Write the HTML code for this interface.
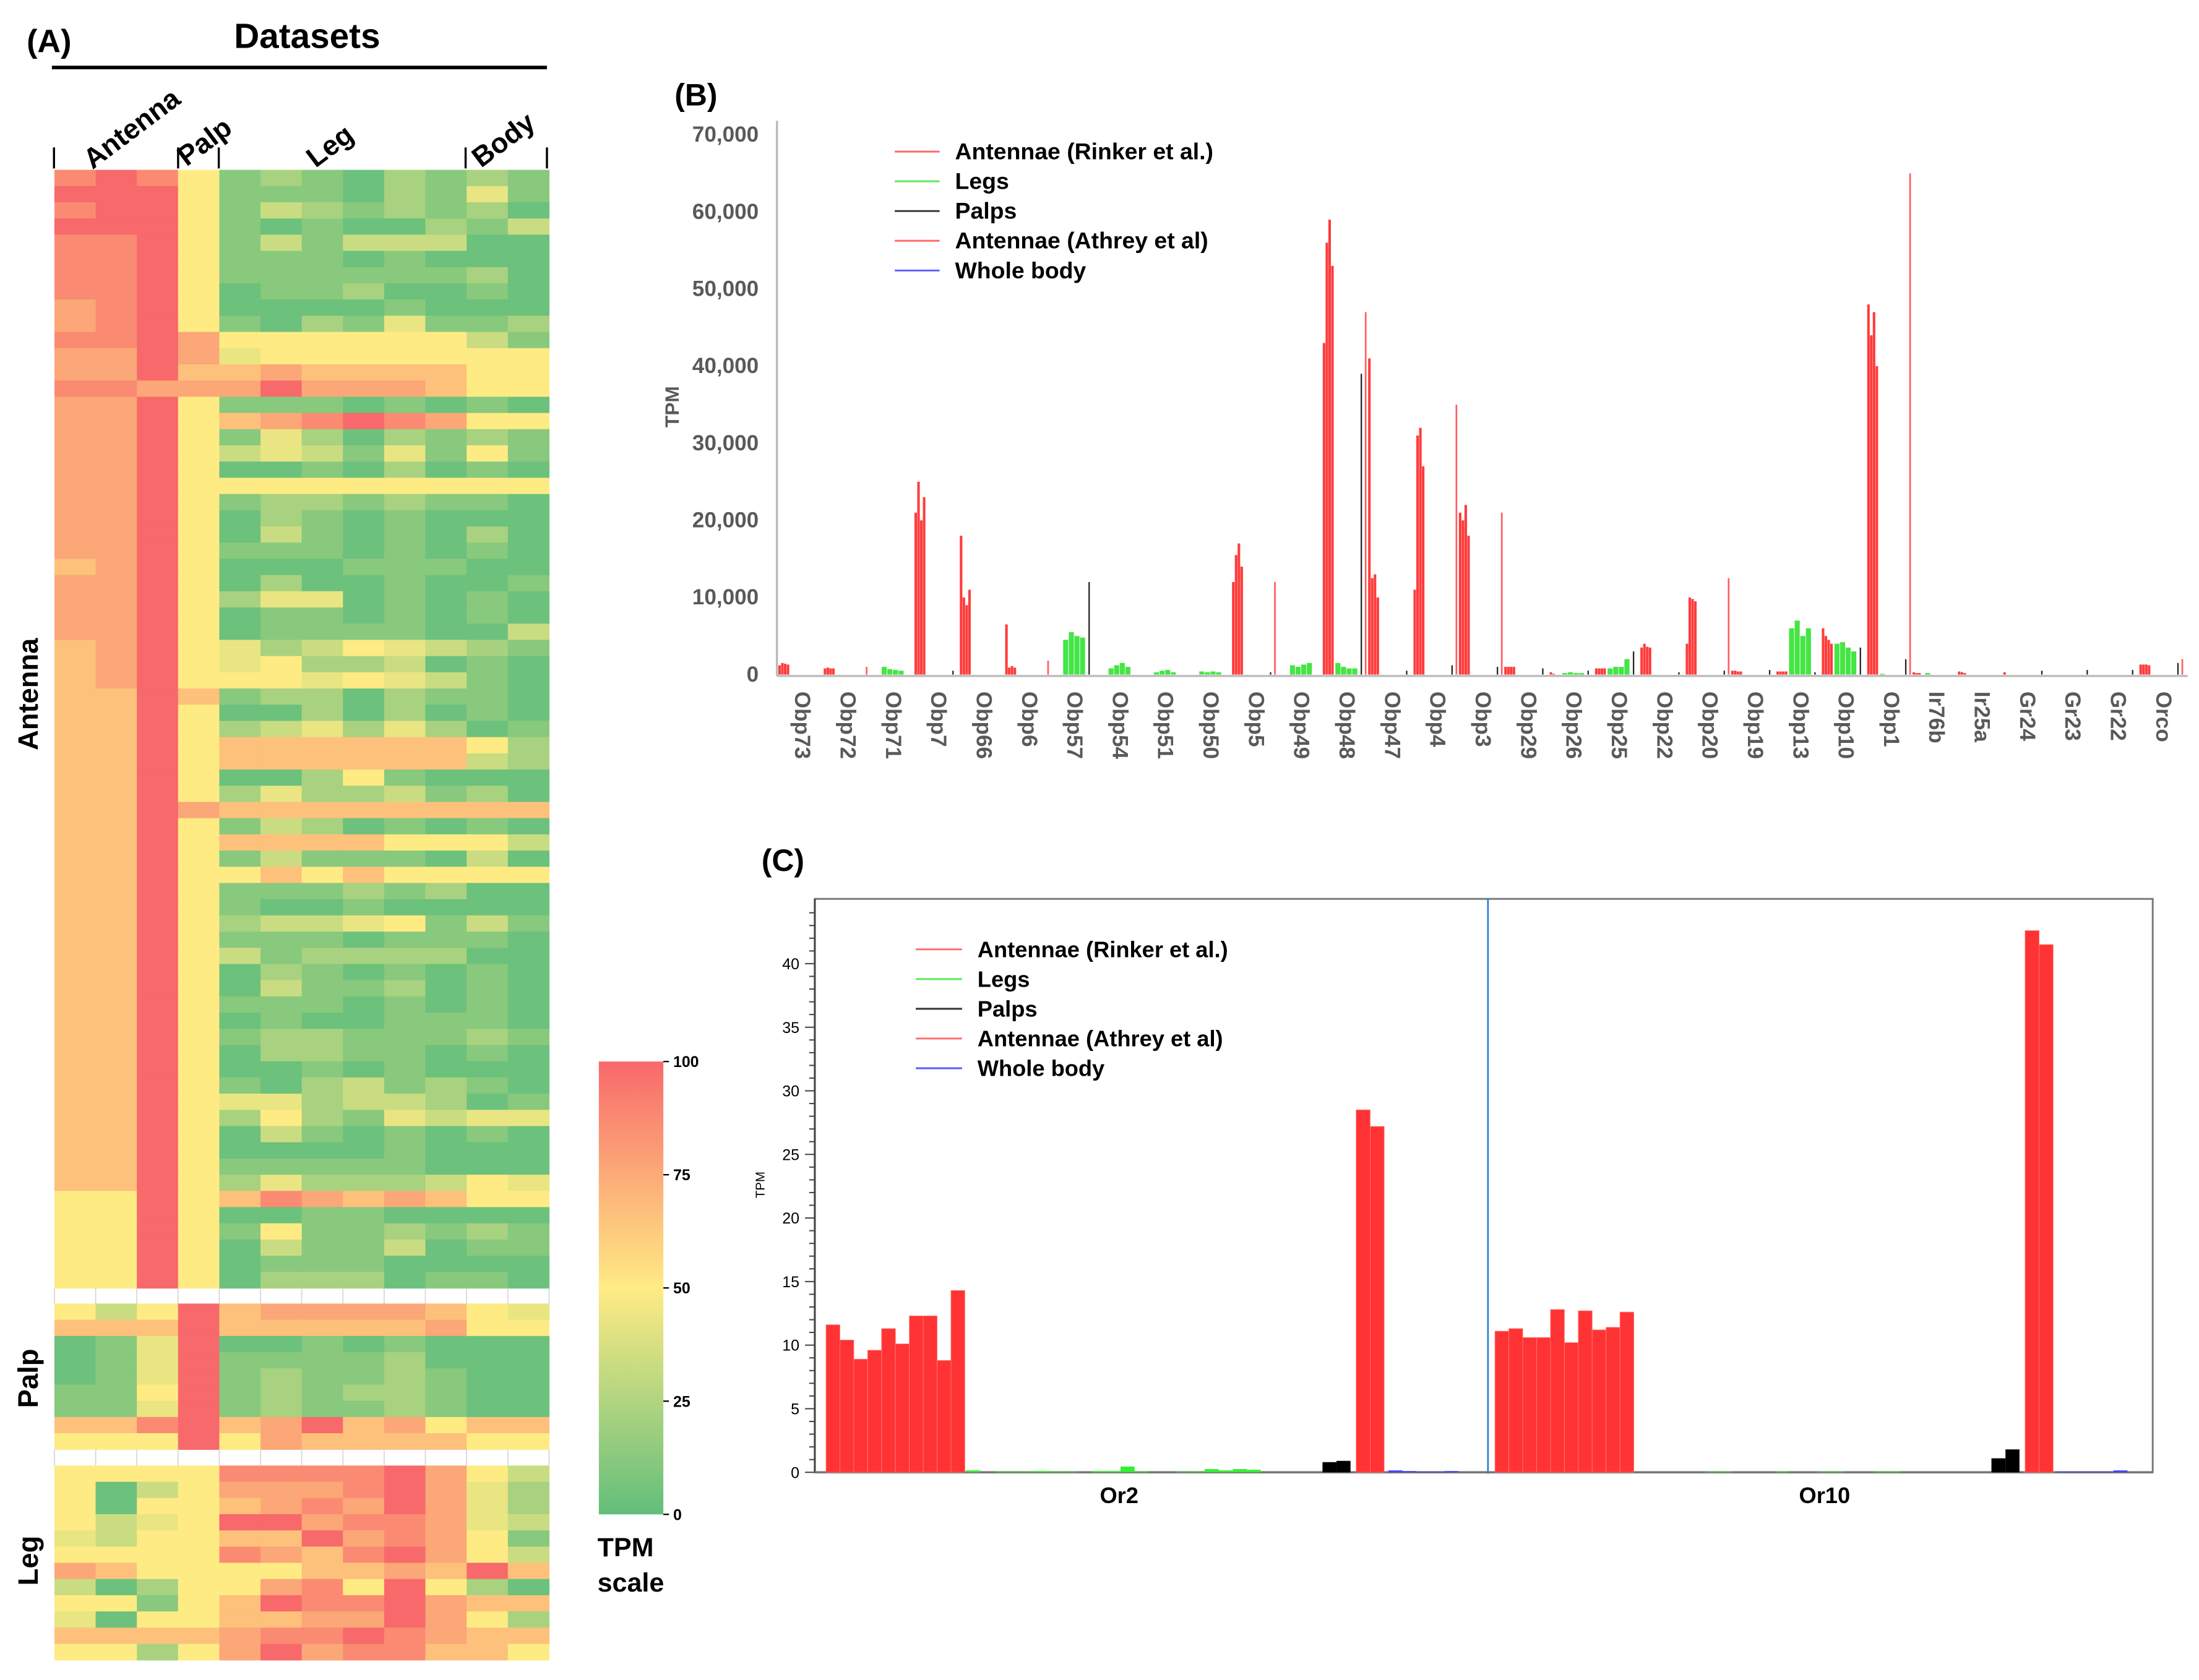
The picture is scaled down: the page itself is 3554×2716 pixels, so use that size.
<!DOCTYPE html>
<html><head><meta charset="utf-8">
<style>
html,body{margin:0;padding:0;background:#fff;}
svg{display:block;font-family:"Liberation Sans",Arial,sans-serif;}
</style></head>
<body>
<svg id="fig" width="3554" height="2716" viewBox="0 0 1568 1198" xmlns="http://www.w3.org/2000/svg">
<rect x="0" y="0" width="1568" height="1198" fill="#fff"/>
<g id="panelA">
 <text x="19" y="37" font-size="23" font-weight="bold">(A)</text>
 <text x="219" y="34" font-size="25" font-weight="bold" text-anchor="middle">Datasets</text>
 <line x1="37" y1="48" x2="390" y2="48" stroke="#000" stroke-width="2.5"/>
 <g stroke="#000" stroke-width="1.5">
  <line x1="38.5" y1="105" x2="38.5" y2="120"/><line x1="127" y1="105" x2="127" y2="120"/>
  <line x1="156" y1="105" x2="156" y2="120"/><line x1="332" y1="105" x2="332" y2="120"/>
  <line x1="390" y1="105" x2="390" y2="120"/>
 </g>
 <text transform="translate(66,121) rotate(-37)" font-size="20" font-weight="bold">Antenna</text>
 <text transform="translate(133,119) rotate(-37)" font-size="20" font-weight="bold">Palp</text>
 <text transform="translate(225,120) rotate(-37)" font-size="20" font-weight="bold">Leg</text>
 <text transform="translate(343,120) rotate(-37)" font-size="20" font-weight="bold">Body</text>
 <text transform="translate(27,495) rotate(-90)" font-size="20" font-weight="bold" text-anchor="middle">Antenna</text>
 <text transform="translate(27,983) rotate(-90)" font-size="20" font-weight="bold" text-anchor="middle">Palp</text>
 <text transform="translate(27,1113) rotate(-90)" font-size="20" font-weight="bold" text-anchor="middle">Leg</text>
 <g id="heat"></g>
 <defs><linearGradient id="cbar" x1="0" y1="1" x2="0" y2="0">
  <stop offset="0" stop-color="rgb(99,190,123)"/><stop offset="0.5" stop-color="rgb(255,235,132)"/><stop offset="1" stop-color="rgb(248,105,107)"/>
 </linearGradient></defs>
 <rect x="427" y="757" width="46" height="323" fill="url(#cbar)"/>
 <g id="cbticks" font-size="11" font-weight="bold"></g>
 <text x="426" y="1110" font-size="19" font-weight="bold">TPM</text>
 <text x="426" y="1135" font-size="19" font-weight="bold">scale</text>
</g>
<g id="panelB">
 <text x="481" y="75" font-size="22" font-weight="bold">(B)</text>
 <g id="bAxis"></g>
 <g id="bBars"></g>
 <text transform="translate(484,290) rotate(-90)" font-size="14" font-weight="bold" fill="#595959" text-anchor="middle">TPM</text>
 <g id="bLegend"></g>
</g>
<g id="panelC">
 <text x="543" y="621" font-size="22" font-weight="bold">(C)</text>
 <rect x="581" y="641" width="954" height="409" fill="none" stroke="#777" stroke-width="1.3"/>
 <line x1="1061" y1="641" x2="1061" y2="1051" stroke="#2a7de1" stroke-width="1.2"/>
 <g id="cAxis"></g>
 <g id="cBars"></g>
 <text transform="translate(545,845) rotate(-90)" font-size="9" text-anchor="middle">TPM</text>
 <g id="cLegend"></g>
</g>
</svg>
<script>
var NS="http://www.w3.org/2000/svg";
function mk(tag,attrs,parent){var e=document.createElementNS(NS,tag);for(var k in attrs)e.setAttribute(k,attrs[k]);parent.appendChild(e);return e;}

/* ---------- Panel A heatmap data (levels 0..9, mapped via levelValues to TPM scale) ---------- */
var heatColumns=["Antenna 1","Antenna 2","Antenna 3","Palp","Leg 1","Leg 2","Leg 3","Leg 4","Leg 5","Leg 6","Body 1","Body 2"];
var levelValues=[3,12,22,33,43,50,66,76,87,100];
var antennaRows=["898512102121","999511102141","899513212120","999510100213","889513133300","889511101000","889511111120","889501120010","789500001000","789510214112",
"889755555531","779745555555","779667666655","887779777655","779511101010","779567898755","779514202121","779534314151","779500102010","779555555555",
"779512212110","779502101000","779503101020","779511101010","679500011100","779502001001","779524401010","779501101010","779501111003","679542354321",
"679545223010","679555454310","669612202110","669500202010","669523424201","669566666652","669566666632","669500251000",
"669524223120","669766666666","669513201010","669566665553","669513111030","669556565555","669511121200","669510010000","669523345131","669511101110",
"669531222200","669502101010","669503112010","669511101010","669501001110","669512211121","669502211010","669500101000","669510231210","669544233201",
"669525214344","669503101010","669500001000","669511111000","669524222354","559568767655","559500110000","559515112121","559503113011","559501110000","559502220110"];
var palpRows=["535967777654","666966666755","014900101000","014911112000","014912112100","115912122100","114912112100","668967967566","555957666655"];
var legRows=["555588889753","503577789742","505567879742","534599788743","435566978751","555587689753","765555667696","302557859520","551569889766","405566779752","666678898766","552579788665"];

var hx0=38.8,hx1=391.5,rowH=11.56;
var heat=document.getElementById('heat');
function lerp(a,b,t){return Math.round(a+(b-a)*t);}
function heatColor(v){var g=[99,190,123],y=[255,235,132],r=[248,105,107];var a,b,t;
 if(v<=50){a=g;b=y;t=v/50;}else{a=y;b=r;t=(v-50)/50;}
 return "rgb("+lerp(a[0],b[0],t)+","+lerp(a[1],b[1],t)+","+lerp(a[2],b[2],t)+")";}
function drawBlock(rows,y0,name){
 var cw=(hx1-hx0)/heatColumns.length;
 rows.forEach(function(row,i){
  for(var j=0;j<heatColumns.length;j++){
   var v=levelValues[parseInt(row.charAt(j),10)];
   var c=mk('rect',{x:(hx0+j*cw).toFixed(2),y:(y0+i*rowH).toFixed(2),width:(cw+0.3).toFixed(2),height:(rowH+0.3).toFixed(2),fill:heatColor(v)},heat);
   
   
  }
 });
 return y0+rows.length*rowH;
}
var yEndA=drawBlock(antennaRows,121,'antenna');
var yP=yEndA+11;
var yEndP=drawBlock(palpRows,yP,'palp');
var yL=yEndP+11.5;
drawBlock(legRows,yL,'leg');
[[yEndA,yP],[yEndP,yL]].forEach(function(g){
 var cw=(hx1-hx0)/heatColumns.length;
 for(var j=0;j<=heatColumns.length;j++){
  var l=mk('line',{x1:hx0+j*cw,y1:g[0],x2:hx0+j*cw,y2:g[1],stroke:"#d8d8d8","stroke-width":0.8},heat);
  
  
 }
});
var cbLabels=["100","75","50","25","0"];
var cbt=document.getElementById('cbticks');
cbLabels.forEach(function(t,i){var y=757+i*323/4;
 var l=mk('line',{x1:473,y1:y,x2:477,y2:y,stroke:"#000","stroke-width":1},cbt);
 
 
 var tx=mk('text',{x:480,y:y+4},cbt);tx.textContent=t;
 
 
});

/* ---------- Panel B data (TPM, thousands) ---------- */
var bGenes=["Obp73","Obp72","Obp71","Obp7","Obp66","Obp6","Obp57","Obp54","Obp51","Obp50","Obp5","Obp49","Obp48","Obp47","Obp4","Obp3","Obp29","Obp26","Obp25","Obp22","Obp20","Obp19","Obp13","Obp10","Obp1","Ir76b","Ir25a","Gr24","Gr23","Gr22","Orco"];
var bRinker=[[1.2,1.5,1.4,1.3],[0.8,0.9,0.8,0.8],[0,0,0,0],[21,25,20,23],[18,10,9,11],[6.5,0.9,1.1,0.9],[0,0,0,0],[0,0,0,0],[0,0,0,0],[0,0,0,0],[12,15.5,17,14],[0,0,0,0],[43,56,59,53],[41,12.5,13,10],[11,31,32,27],[21,20,22,18],[1,1,1,1],[0.3,0.1,0,0],[0.8,0.8,0.8,0.8],[3.5,4,3.6,3.5],[4,10,9.8,9.5],[0.5,0.5,0.4,0.4],[0.4,0.4,0.4,0.4],[6,5,4.5,4],[48,44,47,40],[0.3,0.2,0.2,0],[0.4,0.3,0.2,0],[0.3,0,0,0],[0,0,0,0],[0,0,0,0],[1.3,1.3,1.3,1.2]];
var bLegs=[[0,0,0,0],[0,0,0,0],[1,0.7,0.6,0.5],[0,0,0,0],[0,0,0,0],[0,0,0,0],[4.5,5.5,5,4.8],[0.8,1.2,1.5,1.0],[0.3,0.5,0.6,0.3],[0.4,0.3,0.4,0.3],[0,0,0,0],[1.2,1.0,1.3,1.5],[1.5,1,0.8,0.8],[0,0,0,0],[0,0,0,0],[0,0,0,0],[0,0,0,0],[0.2,0.3,0.2,0.2],[0.8,1,1,2],[0,0,0,0],[0,0,0,0],[0,0,0,0],[6,7,5,6],[4,4.2,3.5,3],[0.1,0,0,0],[0.2,0,0,0],[0,0,0,0],[0,0,0,0],[0,0,0,0],[0,0,0,0],[0,0,0,0]];
var bPalps=[0,0,0,0.5,0,0,12,0,0,0,0.3,0,39,0.5,1.2,1.0,0.8,0.5,3,0.3,0.5,0.6,0.3,3.5,2,0,0,0.5,0.6,0.6,1.5];
var bAthrey=[0,1.0,0,0,0,1.8,0,0,0,0,12,0,47,0,35,21,0,0,0,0,12.5,0,0,0,65,0,0,0,0,0,2];
var bYTicks=[0,10,20,30,40,50,60,70];
var bX0=554,bGroupW=32.35,bY0=481,bYTop=96,bYMax=70;
function bx(i){return bX0+i*bGroupW;}
function by(v){return bY0-(v/bYMax)*(bY0-bYTop);}
var bAxis=document.getElementById('bAxis');
var ya=mk('line',{x1:bX0,y1:86,x2:bX0,y2:bY0+1,stroke:"#bbb","stroke-width":1.5},bAxis);


var xa=mk('line',{x1:bX0,y1:bY0+1,x2:1560,y2:bY0+1,stroke:"#bbb","stroke-width":1.5},bAxis);


bYTicks.forEach(function(t){
 var tx=mk('text',{x:541,y:by(t)+5,"text-anchor":"end","font-size":15.5,"font-weight":"bold",fill:"#595959"},bAxis);
 tx.textContent=t===0?"0":(t+",000");
 
 
});
bGenes.forEach(function(g,i){
 var x=bx(i)+13;
 var tx=mk('text',{transform:"translate("+x+",493) rotate(90)","font-size":15.5,"font-weight":"bold",fill:"#595959"},bAxis);
 tx.textContent=g;
 
 
});
var bBars=document.getElementById('bBars');
function bBar(x,w,v,col,name){
 if(v<=0)return;
 var r=mk('rect',{x:x.toFixed(2),y:by(v).toFixed(2),width:w,height:(bY0-by(v)).toFixed(2),fill:col},bBars);
 
 
}
bGenes.forEach(function(g,i){
 var s=bx(i);
 bRinker[i].forEach(function(v,k){bBar(s+1+k*2,1.8,v,"#ff3b3b",'b-bar-rinker');});
 bLegs[i].forEach(function(v,k){bBar(s+10+k*4,3.6,v,"#44e544",'b-bar-legs');});
 bBar(s+28,1,bPalps[i],"#222",'b-bar-palps');
 bBar(s+31,1.2,bAthrey[i],"#ff6060",'b-bar-athrey');
});
var legendNames=["Antennae (Rinker et al.)","Legs","Palps","Antennae (Athrey et al)","Whole body"];
var legendColors=["#ff6b6b","#5fe85f","#333","#ff6b6b","#5b5bff"];
function legend(gid,lx0,lx1,tx,ty0,dy,fs,name){
 var g=document.getElementById(gid);
 legendNames.forEach(function(n,i){var y=ty0+i*dy;
  var l=mk('line',{x1:lx0,y1:y,x2:lx1,y2:y,stroke:legendColors[i],"stroke-width":1.3},g);
  
  
  var t=mk('text',{x:tx,y:y+5.5,"font-size":fs,"font-weight":"bold"},g);t.textContent=n;
  
  
 });
}
legend('bLegend',638,670,681,108,21.2,16.5,'b-legend');

/* ---------- Panel C data (TPM) ---------- */
var cGenes=["Or2","Or10"];
var cRinker=[[11.6,10.4,8.9,9.6,11.3,10.1,12.3,12.3,8.8,14.3],[11.1,11.3,10.6,10.6,12.8,10.2,12.7,11.2,11.4,12.6]];
var cLegs=[[0.15,0,0.05,0.05,0.05,0.1,0.05,0.05,0,0.1,0.1,0.45,0.05,0,0,0.05,0.05,0.25,0.15,0.25,0.2,0,0,0,0],[0,0,0,0,0,0.05,0.05,0,0,0,0.05,0,0,0.05,0.05,0,0,0.05,0.05,0,0,0,0,0,0]];
var cPalps=[[0.8,0.9],[1.1,1.8]];
var cAthrey=[[28.5,27.2],[42.6,41.5]];
var cBody=[[0.15,0.1,0.05,0.05,0.1],[0.05,0.05,0.05,0.05,0.15]];
var cYTicks=[0,5,10,15,20,25,30,35,40];
var cY0=1050,cPx=9.07,cStart=[589,1066],cBW=9.9;
function cy(v){return cY0-v*cPx;}
var cAxis=document.getElementById('cAxis');
var cya=mk('line',{x1:581,y1:641,x2:581,y2:cY0,stroke:"#444","stroke-width":1.3},cAxis);


var cxa=mk('line',{x1:581,y1:cY0,x2:1535,y2:cY0,stroke:"#777","stroke-width":1.6},cAxis);


for(var m=0;m<=44;m++){
 var y=cy(m),major=(m%5===0);
 var tk=mk('line',{x1:major?574:577,y1:y,x2:581,y2:y,stroke:"#444","stroke-width":0.9},cAxis);
 
 
}
cYTicks.forEach(function(t){
 var tx=mk('text',{x:570,y:cy(t)+4,"text-anchor":"end","font-size":11},cAxis);tx.textContent=t;
 
 
});
var cBars=document.getElementById('cBars');
function cBar(x,w,v,col,name){
 if(v<=0)return;
 var r=mk('rect',{x:x.toFixed(2),y:cy(v).toFixed(2),width:w,height:(v*cPx).toFixed(2),fill:col,stroke:"#ff7a7a","stroke-width":col==="#ff3333"?0.4:0},cBars);
 
 
}
cGenes.forEach(function(g,gi){
 var s=cStart[gi];
 cRinker[gi].forEach(function(v,k){cBar(s+k*cBW,cBW,v,"#ff3333",'c-bar-rinker');});
 cLegs[gi].forEach(function(v,k){cBar(s+100+k*10,10,v,"#33ee33",'c-bar-legs');});
 cPalps[gi].forEach(function(v,k){cBar(s+354+k*10,10,v,"#000",'c-bar-palps');});
 cAthrey[gi].forEach(function(v,k){cBar(s+378+k*10,10,v,"#ff3333",'c-bar-athrey');});
 cBody[gi].forEach(function(v,k){cBar(s+401+k*10,10,v,"#4444ff",'c-bar-body');});
 var tx=mk('text',{x:s+(gi===0?209:235),y:1072,"text-anchor":"middle","font-size":16,"font-weight":"bold"},cAxis);tx.textContent=g;
 
 
});
legend('cLegend',653,686,697,677,21.2,16,'c-legend');
</script>
</body></html>
